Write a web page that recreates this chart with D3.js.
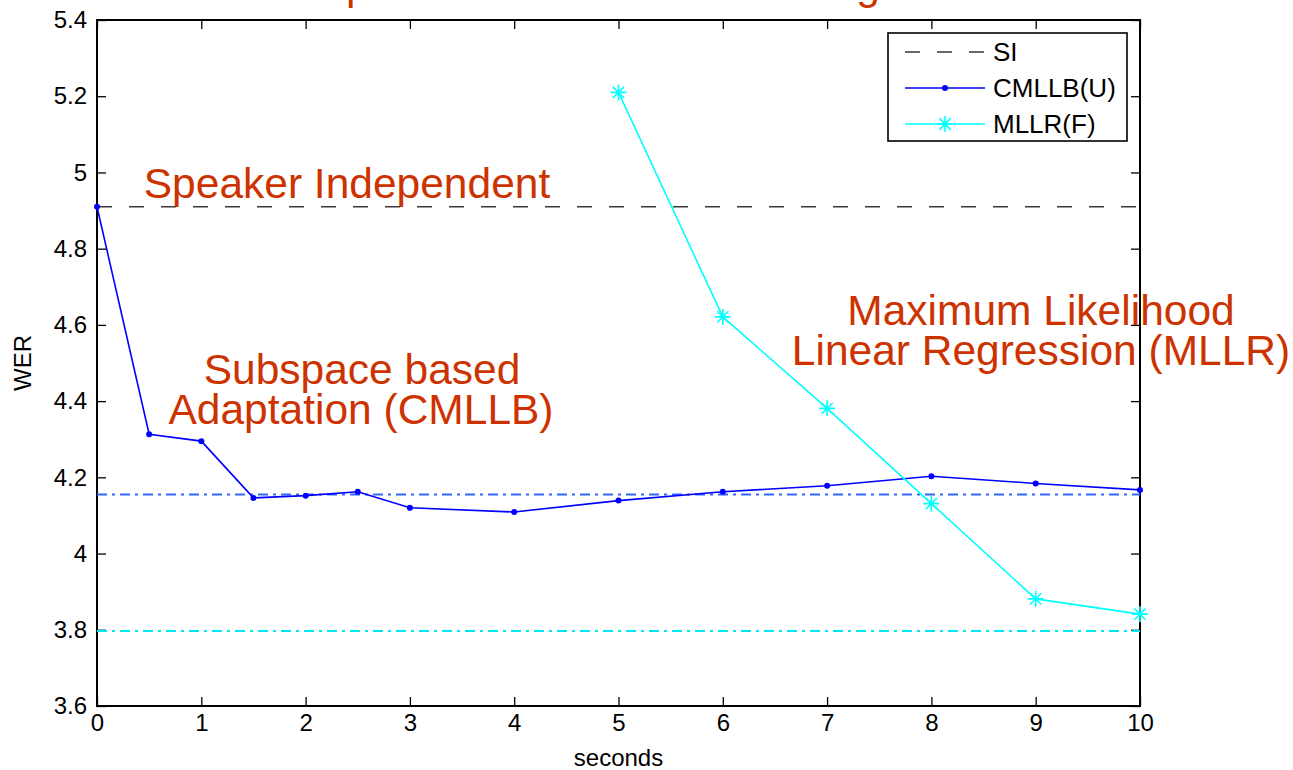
<!DOCTYPE html>
<html>
<head>
<meta charset="utf-8">
<script src="https://cdn.jsdelivr.net/npm/d3@7"></script>
<style>
  body { margin: 0; background: #fff; }
  text { font-family: "Liberation Sans", Arial, sans-serif; }
</style>
</head>
<body>
<svg id="chart" width="1293" height="770"></svg>
<script>
// data
var seconds = [0, 0.5, 1, 1.5, 2, 2.5, 3, 4, 5, 6, 7, 8, 9, 10];
var cmllbWer = [4.91, 4.313, 4.295, 4.146, 4.152, 4.162, 4.12, 4.109, 4.139, 4.162, 4.178, 4.203, 4.184, 4.167];
var mllrSeconds = [5, 6, 7, 8, 9, 10];
var mllrWer = [5.21, 4.621, 4.381, 4.131, 3.881, 3.841];
var siWer = 4.91;
var cmllbLimit = 4.155;
var mllrLimit = 3.797;
var xTicks = [0, 1, 2, 3, 4, 5, 6, 7, 8, 9, 10];
var yTicks = [3.6, 3.8, 4, 4.2, 4.4, 4.6, 4.8, 5, 5.2, 5.4];
var legendLabels = ["SI", "CMLLB(U)", "MLLR(F)"];

(function () {
var svg = d3.select("#chart"),
    mLeft = 97, mRight = 1140, mTop = 20, mBottom = 706,
    red = "#cc3300";

var x = d3.scaleLinear().domain([0, 10]).range([mLeft, mRight]);
var y = d3.scaleLinear().domain([3.6, 5.4]).range([mBottom, mTop]);

// title: only its descenders reach into the picture
var title = svg.append("text")
    .attr("x", 0)
    .attr("y", -1)
    .attr("font-size", 42.5)
    .attr("fill", red)
    .text("Comparison of Rates of Learning");
title.attr("x", 346 - title.node().getStartPositionOfChar(3).x);

// axes
function styleAxis(g) {
    g.select(".domain").remove();
    g.selectAll(".tick line").attr("stroke", "#000").attr("stroke-width", 1.3);
    g.selectAll(".tick text").attr("font-size", 24).attr("fill", "#000")
        .attr("font-family", "'Liberation Sans', Arial, sans-serif");
}

svg.append("g").attr("transform", "translate(0," + mBottom + ")")
    .call(d3.axisBottom(x).tickValues(xTicks).tickFormat(d3.format("d"))
        .tickSizeInner(-9).tickSizeOuter(0).tickPadding(8))
    .call(styleAxis);

svg.append("g").attr("transform", "translate(0," + mTop + ")")
    .call(d3.axisTop(x).tickValues(xTicks).tickFormat("")
        .tickSizeInner(-9).tickSizeOuter(0))
    .call(styleAxis);

svg.append("g").attr("transform", "translate(" + mLeft + ",0)")
    .call(d3.axisLeft(y).tickValues(yTicks).tickFormat(d3.format("~g"))
        .tickSizeInner(-9).tickSizeOuter(0).tickPadding(10))
    .call(styleAxis);

svg.append("g").attr("transform", "translate(" + mRight + ",0)")
    .call(d3.axisRight(y).tickValues(yTicks).tickFormat("")
        .tickSizeInner(-9).tickSizeOuter(0))
    .call(styleAxis);

svg.append("rect")
    .attr("x", mLeft).attr("y", mTop)
    .attr("width", mRight - mLeft).attr("height", mBottom - mTop)
    .attr("fill", "none").attr("stroke", "#000").attr("stroke-width", 2);

// axis labels
svg.append("text")
    .attr("x", (mLeft + mRight) / 2).attr("y", 766)
    .attr("text-anchor", "middle").attr("font-size", 24)
    .text("seconds");

svg.append("text")
    .attr("transform", "translate(31," + ((mTop + mBottom) / 2) + ") rotate(-90)")
    .attr("text-anchor", "middle").attr("font-size", 24)
    .text("WER");

// reference lines
svg.append("line")
    .attr("x1", x(0)).attr("x2", x(10))
    .attr("y1", y(siWer)).attr("y2", y(siWer))
    .attr("stroke", "#3a3a3a").attr("stroke-width", 1.6)
    .attr("stroke-dasharray", "15,17");

svg.append("line")
    .attr("x1", x(0)).attr("x2", x(10))
    .attr("y1", y(cmllbLimit)).attr("y2", y(cmllbLimit))
    .attr("stroke", "#3366ff").attr("stroke-width", 2)
    .attr("stroke-dasharray", "10,5,3,5");

svg.append("line")
    .attr("x1", x(0)).attr("x2", x(10))
    .attr("y1", y(mllrLimit)).attr("y2", y(mllrLimit))
    .attr("stroke", "#00e8f0").attr("stroke-width", 2)
    .attr("stroke-dasharray", "10,5,3,5");

// CMLLB(U)
var cmllbData = seconds.map(function (s, i) { return [s, cmllbWer[i]]; });
var line = d3.line().x(function (d) { return x(d[0]); }).y(function (d) { return y(d[1]); });

svg.append("path").datum(cmllbData)
    .attr("d", line).attr("fill", "none")
    .attr("stroke", "#0000ff").attr("stroke-width", 1.6);

svg.append("g").selectAll("circle").data(cmllbData).enter()
    .append("circle")
    .attr("cx", function (d) { return x(d[0]); })
    .attr("cy", function (d) { return y(d[1]); })
    .attr("r", 3).attr("fill", "#0000ff");

// MLLR(F)
var mllrData = mllrSeconds.map(function (s, i) { return [s, mllrWer[i]]; });

svg.append("path").datum(mllrData)
    .attr("d", line).attr("fill", "none")
    .attr("stroke", "#00ffff").attr("stroke-width", 1.6);

function star(g, r) {
    var d = "M" + -r + ",0L" + r + ",0M0," + -r + "L0," + r +
        "M" + -r * 0.7 + "," + -r * 0.7 + "L" + r * 0.7 + "," + r * 0.7 +
        "M" + -r * 0.7 + "," + r * 0.7 + "L" + r * 0.7 + "," + -r * 0.7;
    g.append("path").attr("d", d).attr("stroke", "#00ffff")
        .attr("stroke-width", 1.6).attr("fill", "none");
}

svg.append("g").selectAll("g").data(mllrData).enter()
    .append("g")
    .attr("transform", function (d) { return "translate(" + x(d[0]) + "," + y(d[1]) + ")"; })
    .each(function () { star(d3.select(this), 8); });

// annotations
var notes = [
    { t: "Speaker Independent", x: 347, y: 198 },
    { t: "Subspace based", x: 362, y: 384 },
    { t: "Adaptation (CMLLB)", x: 361, y: 424 },
    { t: "Maximum Likelihood", x: 1041, y: 325 },
    { t: "Linear Regression (MLLR)", x: 1041, y: 365 }
];
svg.append("g").selectAll("text").data(notes).enter()
    .append("text")
    .attr("x", function (d) { return d.x; })
    .attr("y", function (d) { return d.y; })
    .attr("text-anchor", "middle")
    .attr("font-size", 42.5)
    .attr("fill", red)
    .text(function (d) { return d.t; });

// legend
var legend = svg.append("g").attr("transform", "translate(888,33)");
legend.append("rect")
    .attr("width", 239).attr("height", 108)
    .attr("fill", "#fff").attr("stroke", "#000").attr("stroke-width", 1.6);

var rows = legend.selectAll("g.row").data(legendLabels).enter()
    .append("g").attr("class", "row")
    .attr("transform", function (d, i) { return "translate(0," + (19 + i * 36) + ")"; });

rows.append("text")
    .attr("x", 105).attr("y", 9)
    .attr("font-size", 26)
    .text(function (d) { return d; });

rows.filter(function (d, i) { return i === 0; }).append("line")
    .attr("x1", 17).attr("x2", 97)
    .attr("stroke", "#3a3a3a").attr("stroke-width", 1.6)
    .attr("stroke-dasharray", "15,17");

rows.filter(function (d, i) { return i === 1; }).each(function () {
    var g = d3.select(this);
    g.append("line").attr("x1", 17).attr("x2", 97)
        .attr("stroke", "#0000ff").attr("stroke-width", 1.6);
    g.append("circle").attr("cx", 57).attr("r", 3).attr("fill", "#0000ff");
});

rows.filter(function (d, i) { return i === 2; }).each(function () {
    var g = d3.select(this);
    g.append("line").attr("x1", 17).attr("x2", 97)
        .attr("stroke", "#00ffff").attr("stroke-width", 1.6);
    g.append("g").attr("transform", "translate(57,0)").call(star, 8);
});
})();
</script>
</body>
</html>
